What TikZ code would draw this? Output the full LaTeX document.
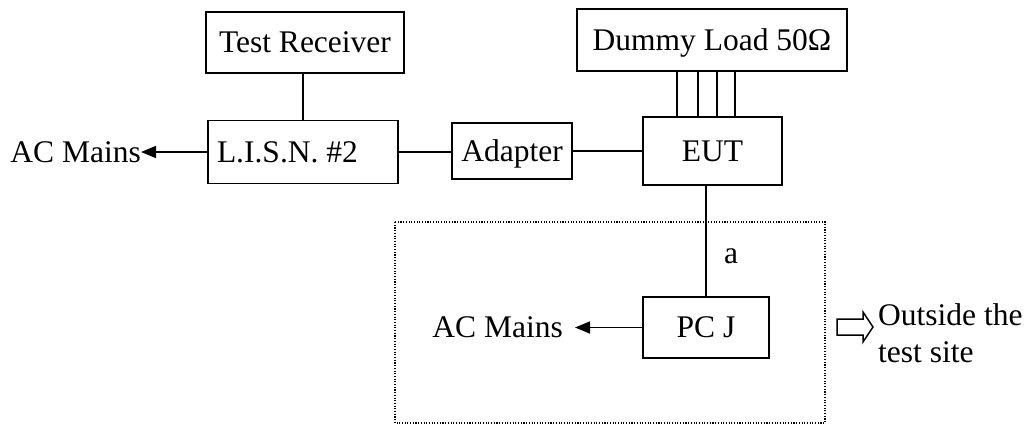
\documentclass[tikz,border=0pt]{standalone}
\usepackage{fontspec}
\setmainfont{Liberation Serif}
\usetikzlibrary{arrows.meta}
\begin{document}
\begin{tikzpicture}[x=1pt,y=-1pt,
  every node/.style={font=\fontsize{31.5}{37}\selectfont},
  box/.style={draw,line width=1.6pt,inner sep=0pt,text height=20.8pt,text depth=0pt},
  lbl/.style={inner sep=0pt,text height=20.8pt,text depth=0pt},
  conn/.style={line width=1.6pt},
  arr/.style={line width=1.6pt,-{Triangle[length=15pt,width=12pt]}},
  dotbox/.style={line width=1.2pt,dash pattern=on 1.1pt off 1.6pt}]
\useasboundingbox (0,0) rectangle (1030,425);
% dotted area
\draw[dotbox] (395,222) rectangle (825,423);
% boxes
\node[box,minimum width=198pt,minimum height=61pt] (tr) at (305,42.5) {Test Receiver};
\node[box,minimum width=190pt,minimum height=63pt] (lisn) at (303,152) {\makebox[172pt][l]{L.I.S.N. \#2}};
\node[box,minimum width=120pt,minimum height=56pt] (adp) at (512,151) {Adapter};
\node[box,minimum width=139pt,minimum height=68pt] (eut) at (712.5,151) {EUT};
\node[box,minimum width=270pt,minimum height=62pt] (dl) at (712,40) {Dummy Load 50\symbol{"03A9}};
\node[box,minimum width=126pt,minimum height=61pt] (pcj) at (706,327.5) {PC J};
% labels
\node[lbl,anchor=east] (acm1) at (141,152) {AC Mains};
\node[lbl,anchor=east] (acm2) at (563,327.5) {AC Mains};
\node[lbl] (la) at (731,253) {a};
\node[inner sep=0pt,anchor=base west] (out1) at (878,325) {Outside the};
\node[inner sep=0pt,anchor=base west] (out2) at (878,362) {test site};
% connectors
\draw[conn] (lisn.north) -- (lisn.north |- tr.south);
\draw[arr] (lisn.west) -- (acm1.east);
\draw[conn] (lisn.east) -- (lisn.east -| adp.west);
\draw[conn] (adp.east) -- (eut.west);
\foreach \dx in {35,56,75,93}
  \draw[conn] ([xshift=\dx pt]eut.north west) -- ([xshift=\dx pt]eut.north west |- dl.south);
\draw[conn] (pcj.north) -- (pcj.north |- eut.south);
\draw[arr] (pcj.west) -- ([xshift=12pt]acm2.east);
% hollow arrow
\draw[line width=1.5pt,line join=miter] (837,319) -- (863,319) -- (863,312) -- (873,327) -- (863,342) -- (863,335) -- (837,335) -- cycle;
\end{tikzpicture}
\end{document}
